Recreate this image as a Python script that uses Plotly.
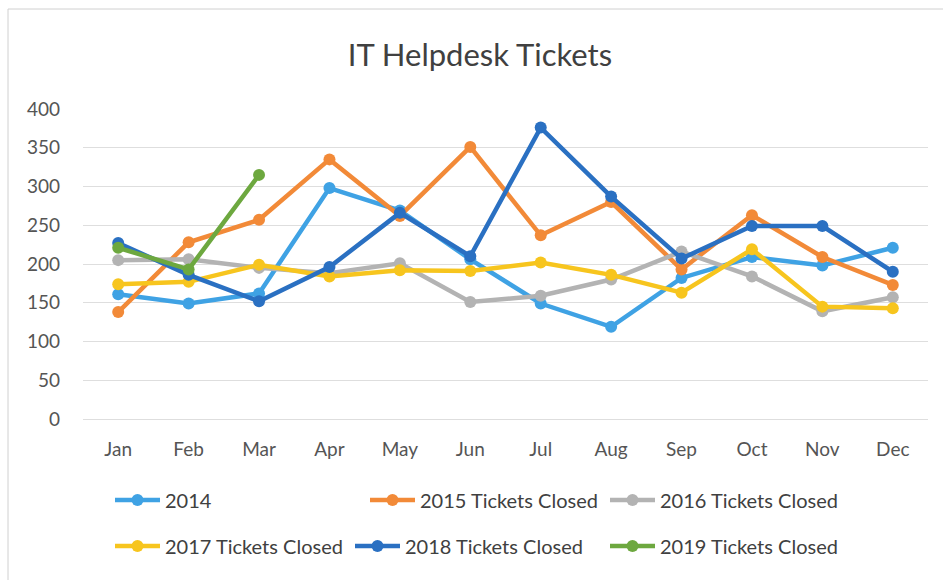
import plotly.graph_objects as go

months = ["Jan", "Feb", "Mar", "Apr", "May", "Jun", "Jul", "Aug", "Sep", "Oct", "Nov", "Dec"]

tickets_2014 = [161, 149, 162, 298, 269, 206, 149, 119, 182, 209, 198, 221]
tickets_2015 = [138, 228, 257, 335, 262, 351, 237, 280, 193, 263, 209, 173]
tickets_2016 = [205, 206, 195, 188, 201, 151, 159, 180, 216, 184, 139, 157]
tickets_2017 = [174, 177, 199, 184, 192, 191, 202, 186, 163, 219, 145, 143]
tickets_2018 = [227, 186, 152, 196, 266, 210, 376, 287, 207, 249, 249, 190]
tickets_2019 = [221, 193, 315]

series_names = ["2014", "2015 Tickets Closed", "2016 Tickets Closed",
                "2017 Tickets Closed", "2018 Tickets Closed", "2019 Tickets Closed"]
series_values = [tickets_2014, tickets_2015, tickets_2016,
                 tickets_2017, tickets_2018, tickets_2019]
series_colors = ["#3fa2e4", "#f28a38", "#b3b3b3", "#f7c51e", "#2a70c2", "#6da83f"]

FONT = "Lato"
W, H = 943, 580
L, R, T, B = 83, 15, 109, 161
PW, PH = W - L - R, H - T - B

# legend entry anchor points (pixels), laid out in two rows
legend_px = [(110, 500), (365, 500), (605, 500),
             (110, 546), (350, 546), (605, 546)]

fig = go.Figure()
for i, (name, vals, col) in enumerate(zip(series_names, series_values, series_colors)):
    fig.add_trace(go.Scatter(
        x=months[:len(vals)], y=vals, name=name, mode="lines+markers",
        line=dict(color=col, width=4.5),
        marker=dict(color=col, size=12),
        showlegend=True,
        legend="legend" if i == 0 else f"legend{i + 1}",
    ))

legend_layout = {}
for i, (px, py) in enumerate(legend_px):
    key = "legend" if i == 0 else f"legend{i + 1}"
    legend_layout[key] = dict(
        x=(px - L) / PW, y=(T + PH - py) / PH,
        xanchor="left", yanchor="middle",
        orientation="h", itemwidth=45,
        bgcolor="rgba(0,0,0,0)",
        font=dict(family=FONT, size=20, color="#404040"),
    )

fig.update_layout(
    width=W, height=H,
    showlegend=True,
    margin=dict(l=L, r=R, t=T, b=B),
    paper_bgcolor="white", plot_bgcolor="white",
    title=dict(text="IT Helpdesk Tickets", x=480 / W, xref="container", xanchor="center",
               y=1 - 55 / H, yanchor="middle",
               font=dict(family=FONT, size=31, color="#404040")),
    xaxis=dict(
        type="category", categoryorder="array", categoryarray=months,
        range=[-0.5, 11.5], showgrid=False, showline=False, zeroline=False,
        ticklabelstandoff=17,
        tickfont=dict(family=FONT, size=19, color="#555555"),
    ),
    yaxis=dict(
        range=[0, 400], tickvals=[0, 50, 100, 150, 200, 250, 300, 350, 400],
        showgrid=True, gridcolor="#dedede", gridwidth=1,
        zeroline=True, zerolinecolor="#dedede", zerolinewidth=1,
        showline=False, ticklabelstandoff=22,
        tickfont=dict(family=FONT, size=19, color="#555555"),
    ),
    shapes=[dict(type="rect", xref="paper", yref="paper",
                 x0=(8 - L) / PW, x1=(W + 5 - L) / PW,
                 y0=(T + PH - (H + 5)) / PH, y1=(T + PH - 9) / PH,
                 line=dict(color="#d0d0d0", width=1), fillcolor="rgba(0,0,0,0)",
                 layer="below")],
    **legend_layout,
)

fig.write_html("out.html")
